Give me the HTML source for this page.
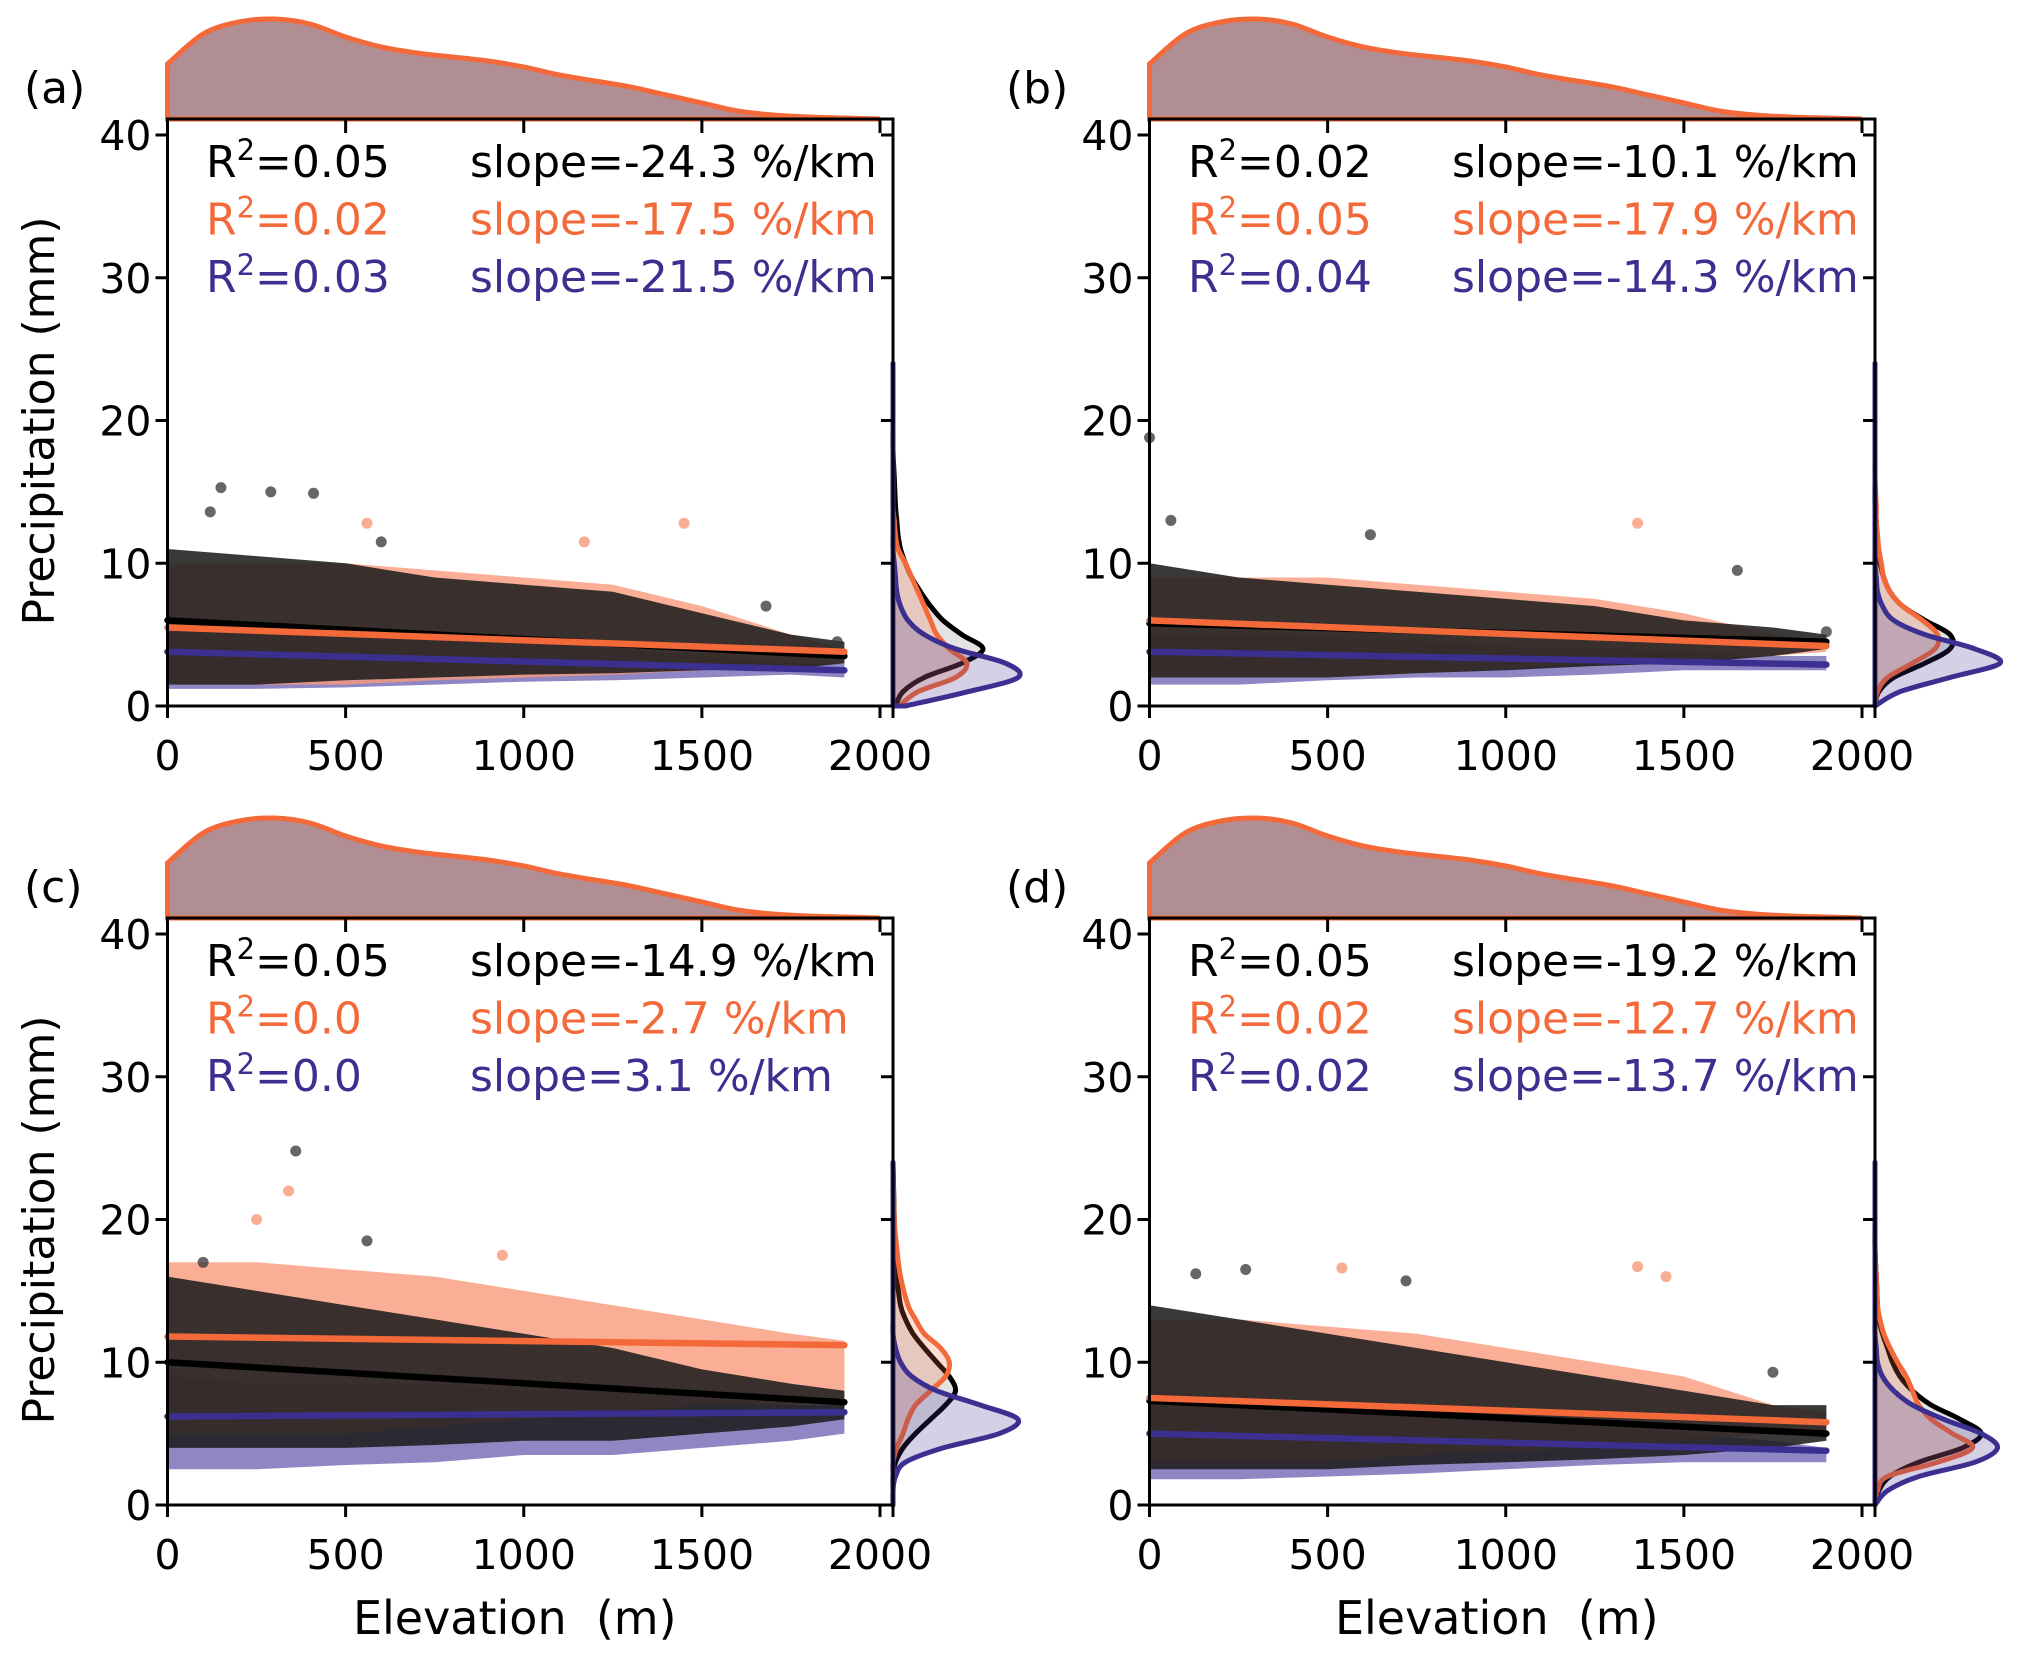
<!DOCTYPE html>
<html><head><meta charset="utf-8"><style>
html,body{margin:0;padding:0;background:#fff;}
svg{display:block;font-family:"DejaVu Sans","Liberation Sans",sans-serif;}
</style></head><body>
<svg id="fig" width="2020" height="1663" viewBox="0 0 2020 1663" xmlns="http://www.w3.org/2000/svg"></svg>
<script>
// ---- data ----
const panelLabels = ["(a)","(b)","(c)","(d)"];
const xTicks = [0,500,1000,1500,2000];
const yTicks = [0,10,20,30,40];
const bandX = [0,250,500,750,1000,1250,1500,1750,1900];
const blackLow = [[1.5,1.5,1.8,2,2.2,2.3,2.5,2.6,3],[2,2,2,2.3,2.5,2.8,3,3.5,4],[4,4,4,4.2,4.5,4.5,5,5.5,6],[2.5,2.5,2.5,2.8,3,3.2,3.5,4,4.5]];
const blackHigh = [[11,10.5,10,9,8.5,8,6.5,5,4.5],[10,9,8.5,8,7.5,7,6,5.5,5],[16,15,14,13,12,11,9.5,8.5,8],[14,13,12,11,10,9,8,7,7]];
const orangeLow = [[1.5,1.5,1.5,1.8,2,2.2,2.5,2.8,3],[2,2,2,2.3,2.6,3,3.2,3.5,3.8],[5,5,5,5.5,6,6.5,7,7,7.5],[3,3,3,3.5,3.8,4,4.5,5,5]];
const orangeHigh = [[10,10,10,9.5,9,8.5,7,5,4],[9,9,9,8.5,8,7.5,6.5,5,4.5],[17,17,16.5,16,15,14,13,12,11.5],[13,13,12.5,12,11,10,9,7,6.5]];
const purpleLow = [[1.2,1.2,1.3,1.5,1.7,1.8,2,2.2,2],[1.5,1.5,1.8,2,2,2.2,2.5,2.5,2.5],[2.5,2.5,2.8,3,3.5,3.5,4,4.5,5],[1.8,1.8,2,2.2,2.5,2.8,3,3,3]];
const purpleHigh = [[6,5.5,5.5,5,4.5,4,3.5,3,3],[5,5,4.8,4.5,4.2,4,3.8,3.5,3.5],[9,8.5,8.5,8.5,8,8,7.5,7,7],[8,7.5,7,6.5,6,5.5,5,4.5,4]];
const blackOut = [[[150,15.3],[290,15],[410,14.9],[120,13.6],[600,11.5],[1680,7],[1880,4.5]],[[0,18.8],[60,13],[620,12],[1650,9.5],[1900,5.2]],[[360,24.8],[560,18.5],[100,17]],[[130,16.2],[270,16.5],[720,15.7],[1750,9.3]]];
const orangeOut = [[[560,12.8],[1450,12.8],[1170,11.5]],[[1370,12.8]],[[340,22],[250,20],[940,17.5]],[[540,16.6],[1370,16.7],[1450,16]]];
const lineBlack = [[6,3.5],[5.8,4.5],[10,7.2],[7.3,5]];
const lineOrange = [[5.5,3.8],[6,4.2],[11.8,11.2],[7.5,5.8]];
const linePurple = [[3.8,2.5],[3.8,2.9],[6.2,6.5],[5,3.8]];
const r2Black = ["0.05","0.02","0.05","0.05"];
const r2Orange = ["0.02","0.05","0.0","0.02"];
const r2Purple = ["0.03","0.04","0.0","0.02"];
const slopeBlack = ["-24.3","-10.1","-14.9","-19.2"];
const slopeOrange = ["-17.5","-17.9","-2.7","-12.7"];
const slopePurple = ["-21.5","-14.3","3.1","-13.7"];
const kdeY = [0,1,2,3,4,5,6,7,8,9,10,11,12,13,14,16,18,20,24];
const kdePurple = [[0.1,0.6,1.0,0.9,0.5,0.25,0.12,0.06,0.03,0.02,0.01,0,0,0,0,0,0,0,0],[0,0.2,0.6,1.0,0.8,0.4,0.15,0.06,0.02,0.01,0,0,0,0,0,0,0,0,0],[0,0,0.02,0.1,0.4,0.85,1.0,0.7,0.35,0.15,0.06,0.02,0,0,0,0,0,0,0],[0,0.1,0.35,0.8,0.98,0.85,0.55,0.3,0.15,0.06,0.02,0.01,0,0,0,0,0,0,0]];
const kdeBlack = [[0.02,0.08,0.25,0.55,0.72,0.55,0.4,0.3,0.22,0.15,0.1,0.06,0.04,0.03,0.02,0.01,0,0,0],[0,0.03,0.15,0.4,0.6,0.6,0.4,0.22,0.12,0.07,0.04,0.02,0.01,0.01,0,0,0,0,0],[0,0,0,0.02,0.08,0.18,0.3,0.42,0.5,0.45,0.35,0.25,0.16,0.1,0.06,0.03,0.01,0.01,0],[0,0.03,0.12,0.35,0.7,0.85,0.68,0.45,0.3,0.2,0.14,0.1,0.06,0.03,0.02,0.01,0,0,0]];
const kdeOrange = [[0.05,0.2,0.5,0.59,0.45,0.35,0.3,0.25,0.2,0.15,0.1,0.04,0.02,0.01,0,0,0,0,0],[0,0.02,0.1,0.3,0.48,0.5,0.38,0.22,0.12,0.07,0.05,0.03,0.02,0.01,0.01,0,0,0,0],[0,0,0,0,0.03,0.08,0.12,0.18,0.3,0.42,0.45,0.38,0.25,0.18,0.12,0.06,0.03,0.01,0],[0,0.02,0.1,0.5,0.78,0.62,0.45,0.35,0.3,0.25,0.18,0.12,0.07,0.04,0.02,0.01,0,0,0]];
const elevGrid = [0,100,200,300,400,500,600,700,800,900,1000,1100,1200,1300,1400,1500,1600,1700,1800,1900,2000];
const elevDens = [0.55,0.85,0.97,1.0,0.95,0.82,0.72,0.66,0.62,0.58,0.52,0.44,0.38,0.32,0.24,0.16,0.08,0.04,0.02,0.01,0.0];

const BLACK="#000", ORANGE="#f4693a", PURPLE="#3b2f8f";
const NS="http://www.w3.org/2000/svg";
const svg=document.getElementById('fig');
function mk(tag,attrs,parent){const e=document.createElementNS(NS,tag);for(const k in attrs)e.setAttribute(k,attrs[k]);(parent||svg).appendChild(e);return e;}
function smooth(pts){
  let d='M'+pts[0][0].toFixed(1)+','+pts[0][1].toFixed(1);
  for(let i=0;i<pts.length-1;i++){
    const p0=pts[Math.max(0,i-1)],p1=pts[i],p2=pts[i+1],p3=pts[Math.min(pts.length-1,i+2)];
    const c1=[p1[0]+(p2[0]-p0[0])/6,p1[1]+(p2[1]-p0[1])/6];
    const c2=[p2[0]-(p3[0]-p1[0])/6,p2[1]-(p3[1]-p1[1])/6];
    d+=' C'+c1[0].toFixed(1)+','+c1[1].toFixed(1)+' '+c2[0].toFixed(1)+','+c2[1].toFixed(1)+' '+p2[0].toFixed(1)+','+p2[1].toFixed(1);
  }
  return d;
}
const FS=44, TFS=41;

for(let p=0;p<4;p++){
  const dx=(p%2)*982, dy=Math.floor(p/2)*799;
  const X=v=>167.5+dx+v*0.35625;
  const Y=v=>706+dy-v*14.275;
  const right=893+dx, top=119+dy;
  const g=mk('g',{});
  
  

  const tpts=elevGrid.map((e,i)=>[X(e),top-elevDens[i]*100]);
  const tm=mk('path',{d:smooth(tpts)+' L'+X(2000)+','+top+' L'+X(0)+','+top+' Z',fill:'#b08e93',stroke:ORANGE,'stroke-width':5},g);
  
  

  const kd=[[kdeBlack[p],'#808080',BLACK,'black'],[kdeOrange[p],ORANGE,ORANGE,'orange'],[kdePurple[p],PURPLE,PURPLE,'purple']];
  kd.forEach(k=>{
    const pts=kdeY.map((yv,i)=>[right+k[0][i]*125,Y(yv)]);
    const e=mk('path',{d:smooth(pts)+' L'+right+','+Y(24)+' L'+right+','+Y(0)+' Z',fill:k[1],'fill-opacity':0.22,stroke:k[2],'stroke-width':5,'stroke-linejoin':'round'},g);
    
    
  });

  const bands=[[purpleLow[p],purpleHigh[p],'#6a5fb0',0.75,'purple'],[orangeLow[p],orangeHigh[p],'#f79a7a',0.8,'orange'],[blackLow[p],blackHigh[p],'#1e1e1e',0.88,'black']];
  bands.forEach(b=>{
    let s='';
    bandX.forEach((xv,i)=>{s+=(i?' L':'M')+X(xv).toFixed(1)+','+Y(b[1][i]).toFixed(1);});
    for(let i=bandX.length-1;i>=0;i--){s+=' L'+X(bandX[i]).toFixed(1)+','+Y(b[0][i]).toFixed(1);}
    s+=' Z';
    const e=mk('path',{d:s,fill:b[2],'fill-opacity':b[3]},g);
    
    
  });
  orangeOut[p].forEach(pt=>{
    const c=mk('circle',{cx:X(pt[0]),cy:Y(pt[1]),r:5.5,fill:ORANGE,'fill-opacity':0.55},g);
    
    
  });
  blackOut[p].forEach(pt=>{
    const c=mk('circle',{cx:X(pt[0]),cy:Y(pt[1]),r:5.5,fill:'#333','fill-opacity':0.75},g);
    
    
  });
  [[lineBlack[p],BLACK,'black'],[lineOrange[p],ORANGE,'orange'],[linePurple[p],PURPLE,'purple']].forEach(l=>{
    const e=mk('line',{x1:X(0),y1:Y(l[0][0]),x2:X(1900),y2:Y(l[0][1]),stroke:l[1],'stroke-width':6.5,'stroke-linecap':'round'},g);
    
    
  });

  const box=mk('rect',{x:X(0),y:top,width:right-X(0),height:Y(0)-top,fill:'none',stroke:'#000','stroke-width':3},g);
  
  
  mk('line',{x1:right,y1:Y(0),x2:right,y2:Y(0)+12,stroke:'#000','stroke-width':3},g);

  xTicks.forEach(t=>{
    mk('line',{x1:X(t),y1:Y(0),x2:X(t),y2:Y(0)+12,stroke:'#000','stroke-width':3},g);
    if(t>0) mk('line',{x1:X(t),y1:top,x2:X(t),y2:top+14,stroke:'#000','stroke-width':3},g);
    const tx=mk('text',{x:X(t),y:Y(0)+64,'font-size':TFS,'text-anchor':'middle'},g);
    tx.textContent=t;
    
    
  });
  yTicks.forEach(t=>{
    mk('line',{x1:X(0)-12,y1:Y(t),x2:X(0),y2:Y(t),stroke:'#000','stroke-width':3},g);
    mk('line',{x1:right,y1:Y(t),x2:right-12,y2:Y(t),stroke:'#000','stroke-width':3},g);
    const tx=mk('text',{x:X(0)-16,y:Y(t)+15,'font-size':TFS,'text-anchor':'end'},g);
    tx.textContent=t;
    
    
  });

  const rows=[[r2Black[p],slopeBlack[p],BLACK,'black'],[r2Orange[p],slopeOrange[p],ORANGE,'orange'],[r2Purple[p],slopePurple[p],PURPLE,'purple']];
  rows.forEach((r,i)=>{
    const yy=177+dy+i*57.5;
    const t1=mk('text',{x:206+dx,y:yy,'font-size':FS,fill:r[2]},g);
    t1.innerHTML='R<tspan dy="-17" font-size="29">2</tspan><tspan dy="17">='+r[0]+'</tspan>';
    
    
    const t2=mk('text',{x:470+dx,y:yy,'font-size':FS,fill:r[2]},g);
    t2.textContent='slope='+r[1]+' %/km';
    
    
  });

  const pl=mk('text',{x:24+dx,y:103+dy,'font-size':FS,'text-anchor':'start'},g);
  pl.textContent=panelLabels[p];
  
  

  if(p%2===0){
    const yl=mk('text',{x:0,y:0,'font-size':FS,'text-anchor':'middle',transform:'translate(54,'+(421+dy)+') rotate(-90)'},g);
    yl.textContent='Precipitation (mm)';
    
    
  }
  if(p>=2){
    const xl=mk('text',{x:X(1000)-9,y:1634,'font-size':46,'text-anchor':'middle'},g);
    xl.setAttribute('style','white-space:pre');
    xl.textContent='Elevation  (m)';
    
    
  }
}
</script>
</body></html>
